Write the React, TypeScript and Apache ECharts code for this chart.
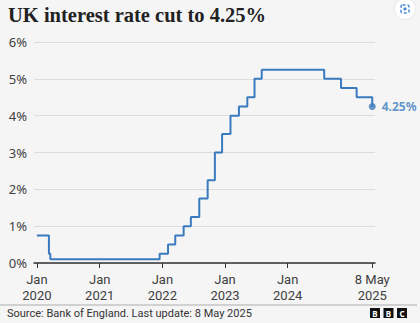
import React, { useEffect, useRef } from "react";
import * as echarts from "echarts";

const rateDates = [
  "2020-01-01", "2020-03-11", "2020-03-19", "2021-12-16", "2022-02-03",
  "2022-03-17", "2022-05-05", "2022-06-16", "2022-08-04", "2022-09-22",
  "2022-11-03", "2022-12-15", "2023-02-02", "2023-03-23", "2023-05-11",
  "2023-06-22", "2023-08-03", "2024-08-01", "2024-11-07", "2025-02-06",
  "2025-05-08",
];
const rateValues = [
  0.75, 0.25, 0.1, 0.25, 0.5, 0.75, 1, 1.25, 1.75, 2.25, 3, 3.5, 4, 4.25, 4.5,
  5, 5.25, 5, 4.75, 4.5, 4.25,
];
const tickDates = ["2020-01-01", "2021-01-01", "2022-01-01", "2023-01-01", "2024-01-01", "2025-05-08"];
const tickMonths = ["Jan", "Jan", "Jan", "Jan", "Jan", "8 May"];
const tickYears = ["2020", "2021", "2022", "2023", "2024", "2025"];
const yTicks = [0, 1, 2, 3, 4, 5, 6];

const title = "UK interest rate cut to 4.25%";
const source = "Source: Bank of England. Last update: 8 May 2025";
const endLabel = "4.25%";

const ts = (d: string) => Date.parse(d + "T00:00:00Z");

const BLUE = "#3a7bbf";
const SANS = "'Noto Sans', 'Open Sans', sans-serif";

export default function App() {
  const ref = useRef<HTMLDivElement>(null);
  useEffect(() => {
    document.body.style.margin = "0";
    const chart = echarts.init(ref.current!, null, { renderer: "svg" });
    const data = rateDates.map((d, i) => [ts(d), rateValues[i]]);
    const tickTs = tickDates.map(ts);
    const last = data[data.length - 1];
    const xMin = ts("2019-12-15");
    const xMax = ts("2025-05-24");
    const labelStyle = {
      customValues: tickTs,
      color: "#404040",
      fontSize: 13,
      fontFamily: "Roboto, 'Noto Sans', sans-serif",
    };
    chart.setOption({
      animation: false,
      backgroundColor: "#f5f5f5",
      grid: { left: 34, right: 45, top: 42, bottom: 60 },
      xAxis: [
        {
          type: "value",
          min: xMin,
          max: xMax,
          splitLine: { show: false },
          axisLine: { show: true, lineStyle: { color: "#333", width: 1.5 } },
          axisTick: { show: true, customValues: tickTs, length: 5, lineStyle: { color: "#333", width: 1 } },
          axisLabel: {
            ...labelStyle,
            margin: 10,
            formatter: (v: number) => {
              const i = tickTs.indexOf(v);
              return i >= 0 ? tickMonths[i] : "";
            },
          },
        },
        {
          type: "value",
          position: "bottom",
          offset: 15.5,
          min: xMin,
          max: xMax,
          splitLine: { show: false },
          axisLine: { show: false },
          axisTick: { show: false },
          axisLabel: {
            ...labelStyle,
            margin: 10,
            formatter: (v: number) => {
              const i = tickTs.indexOf(v);
              return i >= 0 ? tickYears[i] : "";
            },
          },
        },
      ],
      yAxis: {
        type: "value",
        min: yTicks[0],
        max: yTicks[yTicks.length - 1],
        interval: 1,
        axisLine: { show: false },
        axisTick: { show: false },
        splitLine: { lineStyle: { color: "#dcdcdc", width: 1 } },
        axisLabel: {
          formatter: "{value}%",
          color: "#404040",
          fontSize: 13,
          fontFamily: SANS,
          margin: 7,
        },
      },
      series: [
        {
          type: "line",
          step: "end",
          data,
          showSymbol: false,
          lineStyle: { color: BLUE, width: 2 },
          silent: true,
        },
        {
          type: "scatter",
          data: [last],
          symbolSize: 7,
          itemStyle: { color: BLUE },
          label: {
            show: true,
            position: "right",
            distance: 6,
            formatter: endLabel,
            color: BLUE,
            fontWeight: "bold",
            fontSize: 12,
            fontFamily: SANS,
          },
          silent: true,
        },
      ],
      graphic: [
        {
          type: "text",
          left: 8,
          top: 4,
          style: {
            text: title,
            font: "bold 20.5px 'Liberation Serif', 'DejaVu Serif', serif",
            fill: "#222",
          },
        },
        {
          type: "circle",
          shape: { cx: 405, cy: 9, r: 10 },
          style: { fill: "#ffffff", shadowBlur: 3, shadowColor: "rgba(0,0,0,0.12)" },
        },
        {
          type: "rect",
          shape: { x: 401, y: 5, width: 8, height: 8, r: 1.5 },
          style: { fill: "none", stroke: "#4a8ad4", lineWidth: 1.5, lineDash: [3, 2] },
        },
        {
          type: "circle",
          shape: { cx: 405, cy: 9, r: 1.6 },
          style: { fill: "#4a8ad4" },
        },
        {
          type: "line",
          shape: { x1: 0, y1: 305, x2: 417, y2: 305 },
          style: { stroke: "#c4c4c4", lineWidth: 1.5 },
        },
        {
          type: "text",
          left: 7,
          top: 307.5,
          style: { text: source, font: "11px Roboto, " + SANS, fill: "#333" },
        },
        ...["B", "B", "C"].flatMap((ch, i) => [
          {
            type: "rect",
            shape: { x: 370 + i * 13.5, y: 308, width: 10, height: 10 },
            style: { fill: "#111" },
          },
          {
            type: "text",
            x: 375 + i * 13.5,
            y: 313.5,
            style: {
              text: ch,
              font: "bold 8px " + SANS,
              fill: "#fff",
              align: "center",
              verticalAlign: "middle",
            },
          },
        ]),
      ],
    });
    return () => chart.dispose();
  }, []);
  return <div ref={ref} style={{ width: 420, height: 323 }} />;
}
